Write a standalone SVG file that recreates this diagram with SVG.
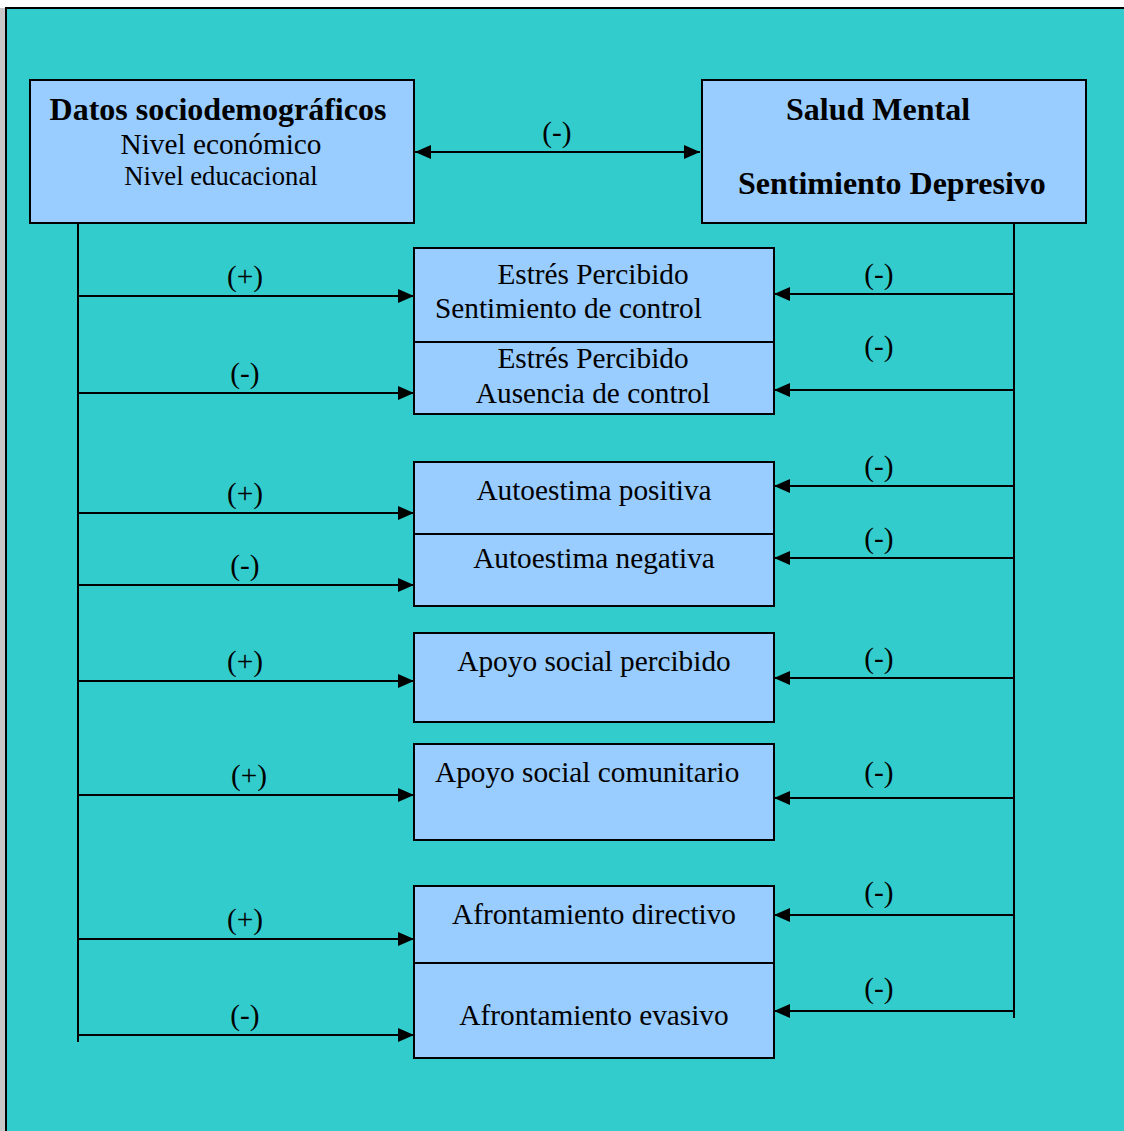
<svg xmlns="http://www.w3.org/2000/svg" width="1124" height="1131" viewBox="0 0 1124 1131">
<style>
text{font-family:'Liberation Serif','Times New Roman','DejaVu Serif',serif;fill:#000;font-size:29.3px}
.b{font-weight:bold;font-size:32px}
.s{font-size:26.7px}
.m{text-anchor:middle}
.box{fill:#99CCFF;stroke:#000;stroke-width:2}
.ln{stroke:#000;stroke-width:2;fill:none}
.ar{stroke:#000;stroke-width:2;fill:none;marker-end:url(#ah)}
</style>
<defs>
<marker id="ah" markerUnits="userSpaceOnUse" markerWidth="16" markerHeight="14" refX="16" refY="7" orient="auto-start-reverse">
<path d="M0,0 L16,7 L0,14 Z" fill="#000"/>
</marker>
</defs>
<rect x="0" y="0" width="1124" height="1131" fill="#fff"/>
<rect x="0" y="8" width="5" height="1123" fill="#c8c8c8"/>
<rect x="6" y="8" width="1130" height="1140" fill="#33CCCC" stroke="#000" stroke-width="2"/>

<g id="connectors">
<path class="ar" d="M415,152 H700" marker-start="url(#ah)"/>
<text class="m" x="557" y="142">(-)</text>
<path class="ln" d="M78,223 V1042"/>
<path class="ln" d="M1014,223 V1018"/>
<path class="ar" d="M78,296 H414"/>
<path class="ar" d="M78,393 H414"/>
<path class="ar" d="M78,513 H414"/>
<path class="ar" d="M78,585 H414"/>
<path class="ar" d="M78,681 H414"/>
<path class="ar" d="M78,795 H414"/>
<path class="ar" d="M78,939 H414"/>
<path class="ar" d="M78,1035 H414"/>
<path class="ar" d="M1014,294 H774"/>
<path class="ar" d="M1014,390 H774"/>
<path class="ar" d="M1014,486 H774"/>
<path class="ar" d="M1014,558 H774"/>
<path class="ar" d="M1014,678 H774"/>
<path class="ar" d="M1014,798 H774"/>
<path class="ar" d="M1014,915 H774"/>
<path class="ar" d="M1014,1011 H774"/>
<text class="m" x="245" y="286">(+)</text>
<text class="m" x="245" y="383">(-)</text>
<text class="m" x="245" y="503">(+)</text>
<text class="m" x="245" y="575">(-)</text>
<text class="m" x="245" y="671">(+)</text>
<text class="m" x="249" y="785">(+)</text>
<text class="m" x="245" y="929">(+)</text>
<text class="m" x="245" y="1025">(-)</text>
<text class="m" x="879" y="284">(-)</text>
<text class="m" x="879" y="356">(-)</text>
<text class="m" x="879" y="476">(-)</text>
<text class="m" x="879" y="548">(-)</text>
<text class="m" x="879" y="668">(-)</text>
<text class="m" x="879" y="782">(-)</text>
<text class="m" x="879" y="902">(-)</text>
<text class="m" x="879" y="998">(-)</text>
</g>

<g id="datos">
<rect class="box" x="30" y="80" width="384" height="143"/>
<text class="b m" x="218" y="120">Datos sociodemográficos</text>
<text class="m" x="221" y="154">Nivel económico</text>
<text class="s m" x="221" y="185">Nivel educacional</text>
</g>

<g id="salud">
<rect class="box" x="702" y="80" width="384" height="143"/>
<text class="b" x="786" y="120">Salud Mental</text>
<text class="b" x="738" y="194">Sentimiento Depresivo</text>
</g>

<g id="estres">
<rect class="box" x="414" y="248" width="360" height="166"/>
<path class="ln" d="M414,342 H774"/>
<text class="m" x="593" y="284">Estrés Percibido</text>
<text x="435" y="318">Sentimiento de control</text>
<text class="m" x="593" y="368">Estrés Percibido</text>
<text class="m" x="593" y="403">Ausencia de control</text>
</g>

<g id="autoestima">
<rect class="box" x="414" y="462" width="360" height="144"/>
<path class="ln" d="M414,534 H774"/>
<text class="m" x="594" y="500">Autoestima positiva</text>
<text class="m" x="594" y="568">Autoestima negativa</text>
</g>

<g id="apoyo-percibido">
<rect class="box" x="414" y="633" width="360" height="89"/>
<text class="m" x="594" y="671">Apoyo social percibido</text>
</g>

<g id="apoyo-comunitario">
<rect class="box" x="414" y="744" width="360" height="96"/>
<text x="435" y="782">Apoyo social comunitario</text>
</g>

<g id="afrontamiento">
<rect class="box" x="414" y="886" width="360" height="172"/>
<path class="ln" d="M414,963 H774"/>
<text class="m" x="594" y="924">Afrontamiento directivo</text>
<text class="m" x="594" y="1025">Afrontamiento evasivo</text>
</g>
</svg>
